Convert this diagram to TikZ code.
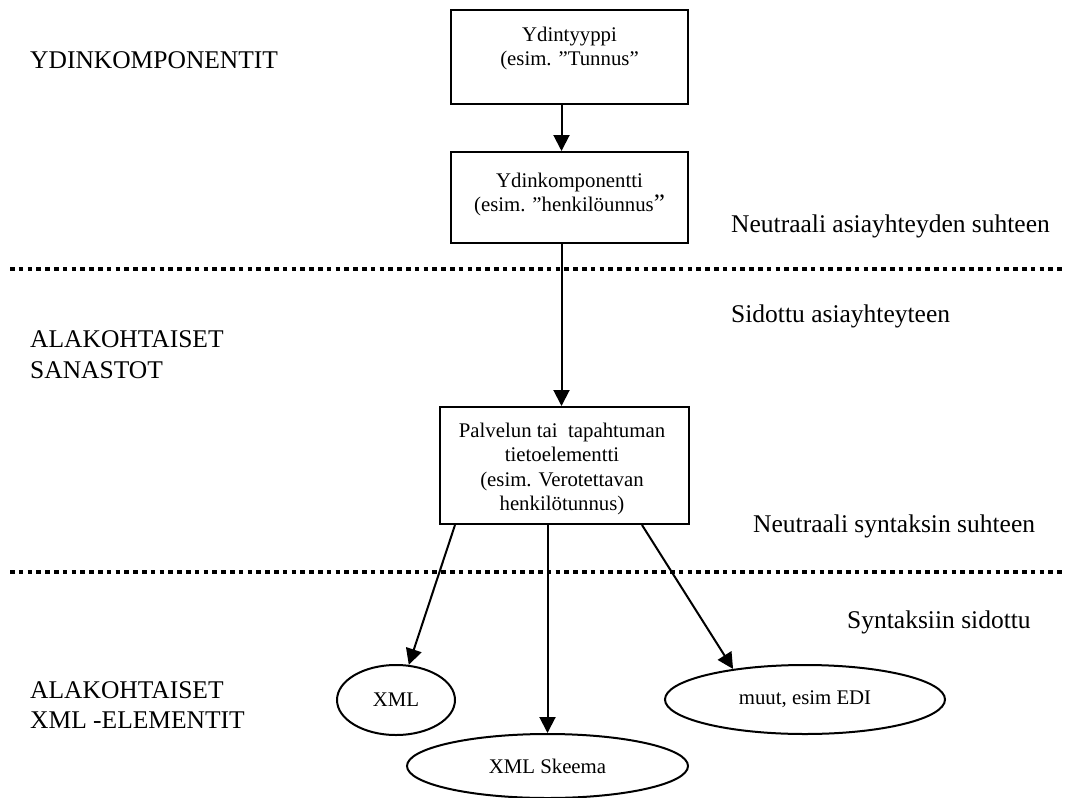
\documentclass[tikz,border=0pt]{standalone}
\usepackage{fontspec}
\setmainfont{Liberation Serif}
\usetikzlibrary{arrows.meta,shapes.geometric}

% centred / left-aligned line stacks whose baseline is the first line
\newcommand\centerlines[1]{\vtop{\baselineskip=24.5pt\lineskiplimit=-20pt\halign{\hfil##\hfil\cr#1\crcr}}}
\newcommand\leftlines[2]{\vtop{\baselineskip=#1\lineskiplimit=-20pt\halign{##\hfil\cr#2\crcr}}}

\tikzset{
  stepbox/.style={draw, line width=2pt, rectangle, inner sep=0pt},
  oval/.style={draw, line width=2pt, ellipse, inner sep=0pt, font=\fontsize{20.8}{24}\selectfont},
  boxtext/.style={anchor=base, inner sep=0pt, font=\fontsize{20.8}{24.5}\selectfont},
  lefttext/.style={anchor=base west, inner sep=0pt, font=\fontsize{25.5}{30}\selectfont},
  righttext/.style={anchor=base west, inner sep=0pt, font=\fontsize{25.5}{30}\selectfont},
  arr/.style={line width=2pt, -{Triangle[length=16pt,width=16pt]}},
  divider/.style={line width=4.5pt, dash pattern=on 4.5pt off 4.3pt},
}

\begin{document}
\begin{tikzpicture}[x=1pt,y=-1pt]
  \useasboundingbox (0,0) rectangle (1074,798);

  % boxes of the upper part
  \node[stepbox, minimum width=237pt, minimum height=94pt] (b1) at (569.5,57) {};
  \node[stepbox, minimum width=237pt, minimum height=91pt] (b2) at (569.5,197.5) {};
  \node[stepbox, minimum width=249pt, minimum height=117pt] (b3) at (564.5,465.5) {};

  \node[boxtext] (t1) at (569.5,41) {\centerlines{Ydintyyppi\cr (esim. "Tunnus”}};
  \node[boxtext] (t2) at (569.5,187) {\centerlines{Ydinkomponentti\cr (esim. "henkilöunnus{\fontsize{25}{25}\selectfont ”}}};
  \node[boxtext] (t3) at (562,437) {\centerlines{Palvelun tai\ \ tapahtuman\cr tietoelementti\cr (esim. Verotettavan\cr henkilötunnus)}};

  % syntax-level ellipses
  \node[oval, minimum width=118pt, minimum height=70pt] (e1) at (396,700) {XML};
  \node[oval, minimum width=281pt, minimum height=64pt] (e2) at (547.5,766) {XML Skeema};
  \node[oval, minimum width=280pt, minimum height=69pt] (e3) at (805,699.5) {muut, esim EDI};

  % level names on the left
  \node[lefttext] (l1) at (30,68) {YDINKOMPONENTIT};
  \node[lefttext] (l2) at (30,347) {\leftlines{31pt}{ALAKOHTAISET\cr SANASTOT}};
  \node[lefttext] (l3) at (30,698) {\leftlines{30pt}{ALAKOHTAISET\cr XML -ELEMENTIT}};

  % notes on the right
  \node[righttext] (r1) at (731,232) {Neutraali asiayhteyden suhteen};
  \node[righttext] (r2) at (731,322) {Sidottu asiayhteyteen};
  \node[righttext] (r3) at (753,532) {Neutraali syntaksin suhteen};
  \node[righttext] (r4) at (847,628) {Syntaksiin sidottu};

  % dotted dividers
  \coordinate (d1a) at (10,269);
  \coordinate (d1b) at (1062,269);
  \coordinate (d2a) at (10,572);
  \coordinate (d2b) at (1062,572);
  \draw[divider] (d1a) -- (d1b);
  \draw[divider] (d2a) -- (d2b);

  % connectors
  \coordinate (cx) at (561.5,0);
  \coordinate (cl) at (455,0);
  \coordinate (cr) at (642,0);
  \draw[arr] (b1.south -| cx) -- (b2.north -| cx);
  \draw[arr] (b2.south -| cx) -- (b3.north -| cx);
  \draw[arr] (b3.south -| cl) -- (e1.70);
  \draw[arr] (b3.south -| e2.north) -- (e2.north);
  \draw[arr] (b3.south -| cr) -- (e3.157);
\end{tikzpicture}
\end{document}
